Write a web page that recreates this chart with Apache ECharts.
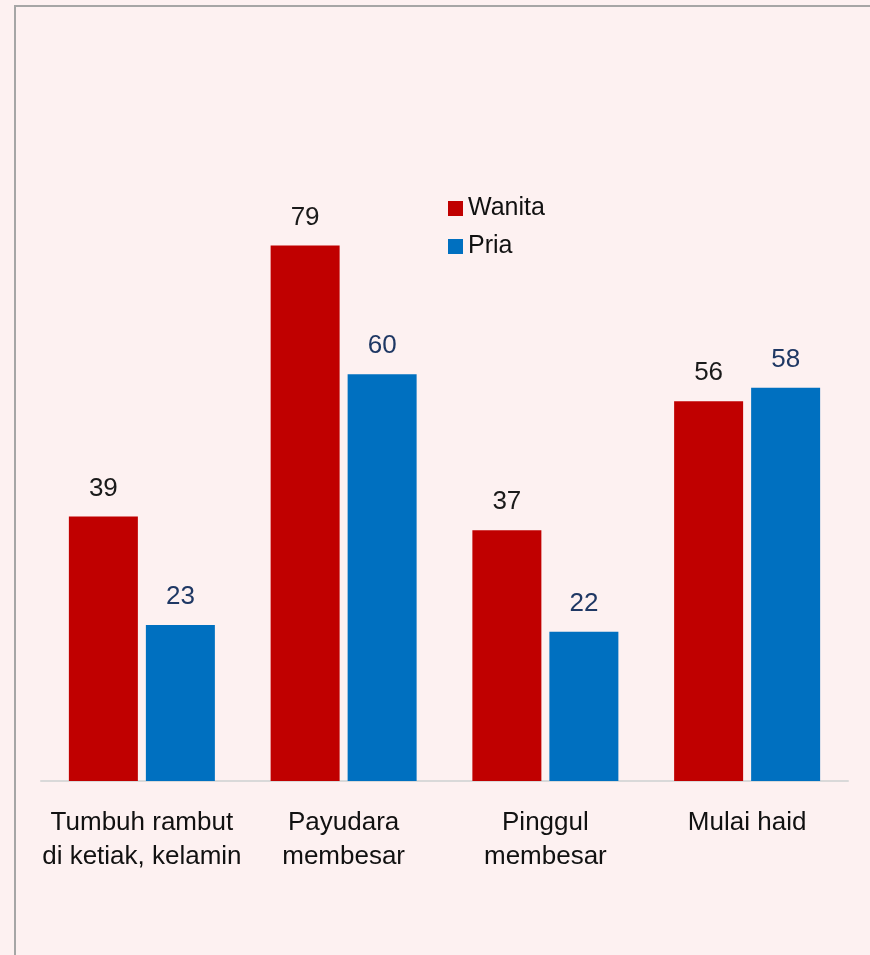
<!DOCTYPE html>
<html>
<head>
<meta charset="utf-8">
<script src="https://cdn.jsdelivr.net/npm/echarts@6/dist/echarts.min.js"></script>
<style>
  html, body { margin: 0; padding: 0; background: #fdf1f1; }
  #chart { width: 870px; height: 955px; }
</style>
</head>
<body>
<div id="chart"></div>
<script>
// data
const categories = ['Tumbuh rambut\ndi ketiak, kelamin', 'Payudara\nmembesar', 'Pinggul\nmembesar', 'Mulai haid'];
const wanita = [39, 79, 37, 56];
const pria   = [23, 60, 22, 58];

const FONT = '"Liberation Sans Narrow", "Liberation Sans", Arial, sans-serif';

const chart = echarts.init(document.getElementById('chart'));
chart.setOption({
  backgroundColor: '#fdf1f1',
  animation: false,
  graphic: [{
    type: 'rect',
    shape: { x: 15, y: 6, width: 900, height: 1000 },
    style: { fill: 'none', stroke: '#a6a6a6', lineWidth: 2 },
    silent: true
  }],
  legend: {
    orient: 'vertical',
    left: 443, top: 191,
    itemWidth: 15, itemHeight: 15,
    itemGap: 13,
    icon: 'rect',
    textStyle: { fontFamily: FONT, fontSize: 25, lineHeight: 22, color: '#111' },
    data: ['Wanita', 'Pria']
  },
  grid: { left: 41, right: 22, top: 103, bottom: 174 },
  xAxis: {
    type: 'category',
    data: categories,
    axisTick: { show: false },
    axisLine: { lineStyle: { color: '#d9d9d9', width: 2 } },
    axisLabel: {
      interval: 0, margin: 25,
      fontFamily: FONT, fontSize: 26, lineHeight: 34, color: '#111'
    }
  },
  yAxis: {
    type: 'value', min: 0, max: 100,
    show: false, splitLine: { show: false }
  },
  series: [
    {
      name: 'Wanita', type: 'bar', data: wanita,
      barWidth: 69, barGap: '11.6%',
      itemStyle: { color: '#c00000' },
      label: {
        show: true, position: 'top', distance: 13,
        fontFamily: FONT, fontSize: 26, lineHeight: 30, color: '#1a1a1a'
      }
    },
    {
      name: 'Pria', type: 'bar', data: pria,
      barWidth: 69,
      itemStyle: { color: '#0070c0' },
      label: {
        show: true, position: 'top', distance: 13,
        fontFamily: FONT, fontSize: 26, lineHeight: 30, color: '#1f3864'
      }
    }
  ]
});
</script>
</body>
</html>
